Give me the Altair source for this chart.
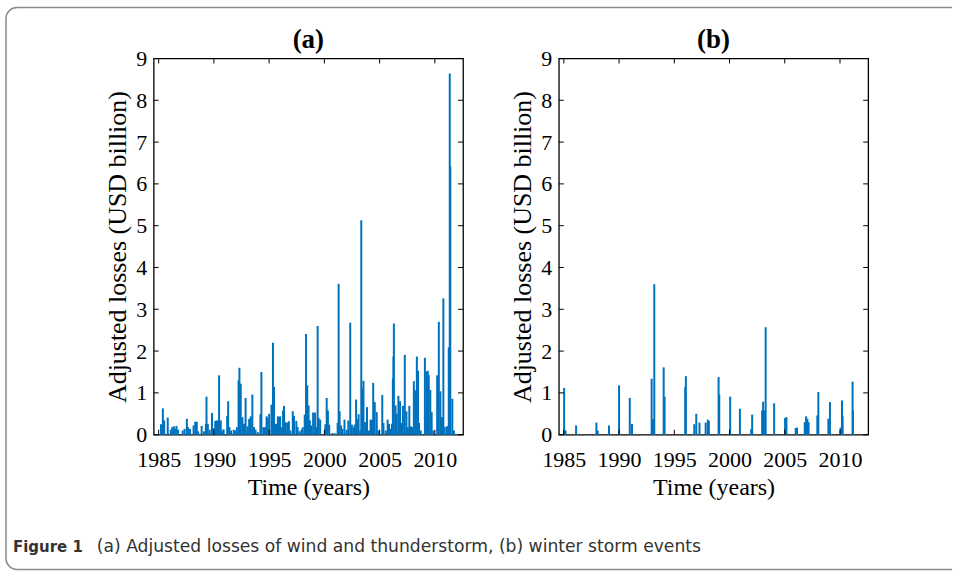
import altair as alt
import pandas as pd

# Wind and thunderstorm events: event time (decimal year) and adjusted loss (USD billion)
wind_year = [
    1985.21, 1985.38, 1985.50, 1985.82, 1986.09, 1986.23, 1986.38, 1986.52, 1986.61, 1986.76,
    1987.17, 1987.34, 1987.55, 1987.66, 1987.84, 1988.16, 1988.31, 1988.45, 1988.57, 1988.89,
    1989.10, 1989.27, 1989.33, 1989.45, 1989.62, 1989.83, 1989.97, 1990.12, 1990.27, 1990.38,
    1990.47, 1990.62, 1990.76, 1990.88, 1991.20, 1991.29, 1991.41, 1991.55, 1991.79, 1991.93,
    1992.08, 1992.23, 1992.31, 1992.43, 1992.58, 1992.72, 1992.87, 1993.04, 1993.19, 1993.34,
    1993.48, 1993.63, 1993.77, 1993.98, 1994.21, 1994.30, 1994.48, 1994.62, 1994.77, 1994.86,
    1995.00, 1995.21, 1995.35, 1995.44, 1995.62, 1995.79, 1995.90, 1996.00, 1996.11, 1996.26,
    1996.35, 1996.49, 1996.64, 1996.79, 1996.93, 1997.14, 1997.25, 1997.46, 1997.58, 1997.75,
    1997.93, 1998.04, 1998.22, 1998.34, 1998.45, 1998.57, 1998.69, 1998.80, 1998.98, 1999.16,
    1999.27, 1999.39, 1999.48, 1999.62, 2000.09, 2000.21, 2000.32, 2000.44, 2000.73, 2000.96,
    2001.20, 2001.29, 2001.38, 2001.52, 2001.64, 2001.82, 2002.02, 2002.17, 2002.34, 2002.49,
    2002.63, 2002.75, 2002.87, 2002.96, 2003.10, 2003.25, 2003.34, 2003.42, 2003.54, 2003.69,
    2003.86, 2004.04, 2004.18, 2004.30, 2004.42, 2004.56, 2004.74, 2004.88, 2005.24, 2005.35,
    2005.56, 2005.73, 2005.85, 2006.00, 2006.11, 2006.20, 2006.25, 2006.29, 2006.44, 2006.55,
    2006.70, 2006.85, 2006.96, 2007.11, 2007.28, 2007.43, 2007.55, 2007.69, 2007.84, 2007.98,
    2008.10, 2008.22, 2008.37, 2008.48, 2008.57, 2008.72, 2009.10, 2009.25, 2009.36, 2009.45,
    2009.59, 2009.71, 2009.86, 2010.21, 2010.36, 2010.50, 2010.65, 2010.77, 2010.88, 2011.06,
    2011.18, 2011.26, 2011.35, 2011.40, 2011.58, 2011.73,
]
wind_loss = [
    0.25, 0.63, 0.34, 0.41, 0.12, 0.18, 0.20, 0.14, 0.21, 0.12,
    0.10, 0.14, 0.38, 0.18, 0.14, 0.22, 0.31, 0.31, 0.08, 0.21,
    0.08, 0.26, 0.91, 0.26, 0.12, 0.52, 0.16, 0.33, 0.34, 0.34,
    1.42, 0.34, 0.10, 0.13, 0.45, 0.80, 0.18, 0.10, 0.12, 0.10,
    0.18, 1.30, 1.60, 1.22, 0.42, 0.26, 0.88, 0.20, 0.38, 0.44,
    0.96, 0.18, 0.12, 0.06, 0.49, 1.50, 0.18, 0.18, 0.44, 0.40,
    0.50, 0.72, 2.20, 1.14, 0.26, 0.44, 0.42, 0.44, 0.18, 0.58,
    0.69, 0.30, 0.29, 0.32, 0.10, 0.56, 0.45, 0.33, 0.18, 0.08,
    0.12, 0.18, 0.48, 2.41, 1.18, 0.70, 0.34, 0.22, 0.53, 0.53,
    0.18, 2.60, 0.40, 0.36, 0.25, 0.88, 0.58, 0.24, 0.04, 0.03,
    0.28, 3.61, 0.56, 0.22, 0.14, 0.36, 0.12, 0.34, 2.68, 0.24,
    0.18, 0.24, 0.84, 0.37, 0.49, 0.10, 5.13, 1.10, 1.29, 0.30,
    0.66, 0.10, 0.36, 0.36, 1.24, 0.78, 0.54, 0.10, 0.95, 0.28,
    0.10, 0.36, 0.26, 0.14, 0.26, 1.34, 1.87, 2.66, 0.70, 0.50,
    0.93, 0.80, 0.28, 0.69, 1.91, 0.56, 0.18, 0.69, 0.20, 0.18,
    1.28, 1.06, 1.87, 1.53, 0.28, 0.10, 1.84, 1.51, 1.53, 1.43,
    1.07, 0.54, 0.10, 1.42, 2.70, 1.04, 0.42, 3.26, 0.18, 0.20,
    0.20, 2.09, 8.64, 6.42, 0.86, 0.10,
]

# Winter storm events
winter_year = [
    1985.03, 1985.15, 1986.11, 1987.95, 1988.07, 1989.09, 1990.00, 1990.97, 1991.17, 1992.95,
    1993.07, 1993.19, 1994.04, 1994.12, 1995.99, 1996.05, 1996.81, 1996.99, 1997.28, 1997.84,
    1998.04, 1998.13, 1999.01, 1999.07, 2000.06, 2000.94, 2001.96, 2002.05, 2002.95, 2003.04,
    2003.16, 2003.27, 2004.04, 2005.03, 2005.15, 2005.99, 2006.11, 2006.81, 2006.93, 2007.05,
    2007.16, 2007.95, 2008.04, 2008.95, 2009.09, 2010.06, 2010.18, 2010.24, 2011.14, 2011.17,
]
winter_loss = [
    1.12, 0.10, 0.22, 0.29, 0.10, 0.22, 1.18, 0.88, 0.26, 1.34,
    0.37, 3.60, 1.61, 0.91, 1.14, 1.40, 0.25, 0.50, 0.29, 0.29,
    0.36, 0.33, 1.38, 0.96, 0.91, 0.62, 0.13, 0.48, 0.58, 0.79,
    0.58, 2.57, 0.75, 0.40, 0.42, 0.16, 0.17, 0.30, 0.44, 0.38,
    0.30, 0.46, 1.02, 0.38, 0.78, 0.17, 0.82, 0.44, 1.27, 0.58,
]

year_ticks = [1985, 1990, 1995, 2000, 2005, 2010]
loss_ticks = [0, 1, 2, 3, 4, 5, 6, 7, 8, 9]

caption_label = "Figure 1"
caption_text = "(a) Adjusted losses of wind and thunderstorm, (b) winter storm events"

W, H = 310, 377
BAR_BLUE = "#0072BD"
SERIF = "Liberation Serif"
SANS = "DejaVu Sans"

x_scale = alt.Scale(domain=[1985, 2012.1], nice=False, zero=False)
y_scale = alt.Scale(domain=[0, 9], nice=False)


def panel(years, losses, letter, decorate=False):
    df = pd.DataFrame({"year": years, "loss": losses})
    bars = alt.Chart(df).mark_bar(size=2, color=BAR_BLUE).encode(
        x=alt.X(
            "year:Q",
            scale=x_scale,
            axis=alt.Axis(
                values=year_ticks, format="d", title="Time (years)",
                labelFlush=False, labelOverlap=False, labelPadding=15,
                titlePadding=5, titleFontSize=24,
            ),
        ),
        y=alt.Y(
            "loss:Q",
            scale=y_scale,
            axis=alt.Axis(
                values=loss_ticks, format="d", title="Adjusted losses (USD billion)",
                labelFlush=False, labelOverlap=False, labelPadding=7,
                titlePadding=5, titleFontSize=26,
            ),
        ),
    )

    # inward tick marks on all four sides of the box
    xt = alt.Chart(pd.DataFrame({"year": year_ticks}))
    yt = alt.Chart(pd.DataFrame({"loss": loss_ticks}))
    tick = dict(color="black", strokeWidth=1)
    ticks = [
        xt.mark_rule(**tick).encode(x="year:Q", y=alt.value(H), y2=alt.value(H - 5)),
        xt.mark_rule(**tick).encode(x="year:Q", y=alt.value(0), y2=alt.value(5)),
        yt.mark_rule(**tick).encode(y="loss:Q", x=alt.value(0), x2=alt.value(5)),
        yt.mark_rule(**tick).encode(y="loss:Q", x=alt.value(W), x2=alt.value(W - 5)),
    ]

    # panel heading
    heading = alt.Chart(pd.DataFrame({"t": [letter]})).mark_text(
        font=SERIF, fontSize=27, fontWeight="bold", color="black",
        align="center", baseline="alphabetic",
    ).encode(x=alt.value(W / 2), y=alt.value(-10), text="t:N")

    layers = [bars] + ticks + [heading]
    if decorate:
        one = pd.DataFrame({"k": [0]})
        # rounded figure frame that runs off the right edge of the page
        frame = alt.Chart(one).mark_rect(
            fill="white", fillOpacity=0, stroke="#8a8a8a", strokeWidth=1.5,
            cornerRadiusTopLeft=11, cornerRadiusBottomLeft=11,
        ).encode(x=alt.value(-148), x2=alt.value(801), y=alt.value(-51), y2=alt.value(512))
        cover = alt.Chart(one).mark_rect(fill="white").encode(
            x=alt.value(800), x2=alt.value(802), y=alt.value(-52), y2=alt.value(513)
        )
        cap_bold = alt.Chart(pd.DataFrame({"t": [caption_label]})).mark_text(
            font=SANS, fontSize=15, fontWeight="bold", color="#333333",
            align="left", baseline="alphabetic",
        ).encode(x=alt.value(-141), y=alt.value(495), text="t:N")
        cap_rest = alt.Chart(pd.DataFrame({"t": [caption_text]})).mark_text(
            font=SANS, fontSize=17.2, color="#333333",
            align="left", baseline="alphabetic",
        ).encode(x=alt.value(-57), y=alt.value(495), text="t:N")
        layers = [frame, cover] + layers + [cap_bold, cap_rest]

    return alt.layer(*layers).properties(width=W, height=H)


left = panel(wind_year, wind_loss, "(a)", decorate=True)
right = panel(winter_year, winter_loss, "(b)")

chart = (
    alt.hconcat(left, right, spacing=96, bounds="flush")
    .properties(
        padding={"left": 4, "top": 5, "right": 0, "bottom": 0},
        background="white",
    )
    .configure_view(stroke="black", strokeWidth=1.3)
    .configure_axis(
        labelFont=SERIF, titleFont=SERIF, labelFontSize=22, titleFontSize=23,
        labelColor="black", titleColor="black", titleFontWeight="normal",
        ticks=False, domain=False, grid=False,
    )
)

chart.save("out.html", embed_options={"renderer": "svg", "actions": False})
